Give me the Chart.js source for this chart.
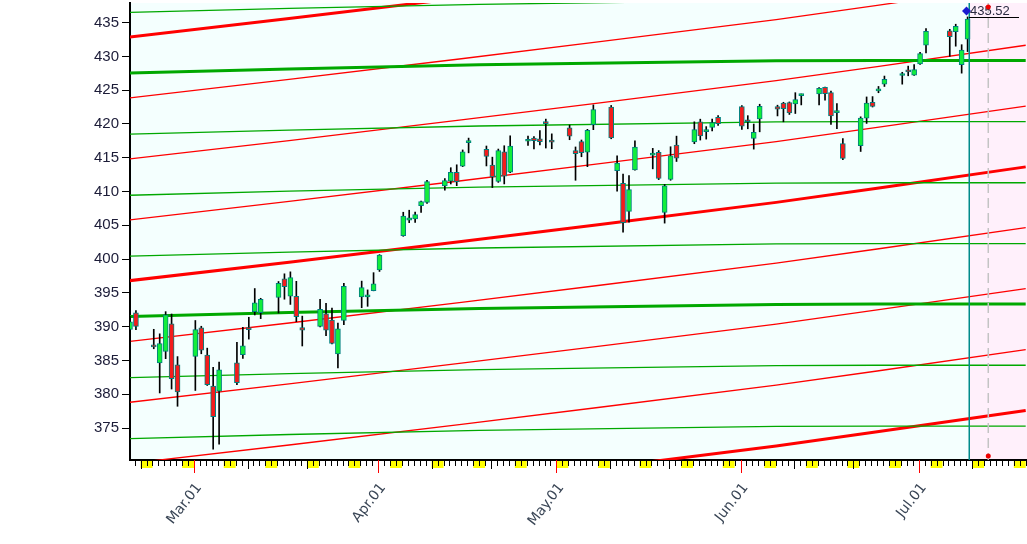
<!DOCTYPE html>
<html>
<head>
<meta charset="utf-8">
<script src="https://cdn.jsdelivr.net/npm/chart.js@4.4.1/dist/chart.umd.min.js"></script>
<style>
  html, body { margin: 0; padding: 0; background: #ffffff; }
  #wrap { width: 1027px; height: 544px; }
</style>
</head>
<body>
<div id="wrap"><canvas id="chart" width="1027" height="544"></canvas></div>
<script>
// daily candles
const dates = [
  "2021-02-18", "2021-02-19", "2021-02-22", "2021-02-23", "2021-02-24", "2021-02-25", "2021-02-26",
  "2021-03-01", "2021-03-02", "2021-03-03", "2021-03-04", "2021-03-05",
  "2021-03-08", "2021-03-09", "2021-03-10", "2021-03-11", "2021-03-12",
  "2021-03-15", "2021-03-16", "2021-03-17", "2021-03-18", "2021-03-19",
  "2021-03-22", "2021-03-23", "2021-03-24", "2021-03-25", "2021-03-26",
  "2021-03-29", "2021-03-30", "2021-03-31", "2021-04-01",
  "2021-04-05", "2021-04-06", "2021-04-07", "2021-04-08", "2021-04-09",
  "2021-04-12", "2021-04-13", "2021-04-14", "2021-04-15", "2021-04-16",
  "2021-04-19", "2021-04-20", "2021-04-21", "2021-04-22", "2021-04-23",
  "2021-04-26", "2021-04-27", "2021-04-28", "2021-04-29", "2021-04-30",
  "2021-05-03", "2021-05-04", "2021-05-05", "2021-05-06", "2021-05-07",
  "2021-05-10", "2021-05-11", "2021-05-12", "2021-05-13", "2021-05-14",
  "2021-05-17", "2021-05-18", "2021-05-19", "2021-05-20", "2021-05-21",
  "2021-05-24", "2021-05-25", "2021-05-26", "2021-05-27", "2021-05-28",
  "2021-06-01", "2021-06-02", "2021-06-03", "2021-06-04",
  "2021-06-07", "2021-06-08", "2021-06-09", "2021-06-10", "2021-06-11",
  "2021-06-14", "2021-06-15", "2021-06-16", "2021-06-17", "2021-06-18",
  "2021-06-21", "2021-06-22", "2021-06-23", "2021-06-24", "2021-06-25",
  "2021-06-28", "2021-06-29", "2021-06-30", "2021-07-01", "2021-07-02",
  "2021-07-06", "2021-07-07", "2021-07-08", "2021-07-09"
];
const open = [
  389.59, 392.07, 387.06, 384.66, 386.33, 390.41, 384.35,
  385.59, 389.82, 385.79, 381.22, 380.46,
  384.66, 385.85, 389.69, 392.23, 392.07,
  394.33, 397.07, 394.53, 394.48, 389.88,
  390.03, 391.91, 391.00, 385.98, 390.93,
  394.40, 394.42, 395.34, 398.40,
  403.46, 405.76, 405.94, 407.93, 408.39,
  410.85, 411.53, 412.83, 413.74, 417.25,
  416.26, 413.91, 411.51, 415.89, 412.87,
  417.44, 417.93, 417.81, 420.32, 417.63,
  419.43, 416.07, 417.38, 415.83, 419.89,
  422.50, 413.10, 411.23, 407.07, 413.21,
  415.39, 415.80, 406.92, 411.80, 416.87,
  417.34, 420.33, 418.87, 419.50, 420.97,
  422.57, 420.37, 417.85, 420.75,
  422.59, 423.11, 423.18, 422.96, 424.20,
  424.43, 425.42, 424.63, 421.67, 417.09,
  416.80, 420.85, 423.19, 424.89, 425.90,
  427.17, 427.88, 427.21, 428.87, 431.67,
  433.78, 433.66, 428.78, 432.53
];
const high = [
  391.52, 392.38, 389.62, 388.95, 392.23, 391.88, 385.58,
  390.92, 390.07, 386.83, 384.00, 384.76,
  387.68, 389.91, 391.40, 395.65, 394.21,
  396.69, 397.83, 398.12, 396.72, 391.57,
  394.07, 393.46, 392.75, 390.55, 396.41,
  396.75, 395.45, 398.00, 400.67,
  406.94, 407.24, 406.96, 408.58, 411.67,
  411.93, 413.53, 413.96, 416.16, 417.91,
  416.74, 415.09, 416.29, 416.78, 418.25,
  418.22, 418.14, 419.01, 420.72, 418.54,
  419.84, 416.60, 417.63, 419.21, 422.82,
  422.74, 415.27, 412.59, 412.35, 417.49,
  416.39, 416.06, 411.05, 416.63, 418.20,
  420.32, 420.71, 419.61, 420.72, 421.25,
  422.72, 421.23, 419.99, 422.92,
  422.78, 423.21, 423.26, 424.63, 424.43,
  425.37, 425.46, 424.87, 423.02, 417.83,
  421.06, 424.00, 424.05, 425.55, 427.09,
  427.65, 428.56, 428.78, 430.60, 434.10,
  434.01, 434.76, 431.73, 435.84
];
const low = [
  387.74, 389.55, 386.74, 380.20, 385.27, 380.78, 378.23,
  380.57, 386.00, 381.31, 371.88, 372.64,
  381.42, 385.31, 388.17, 391.74, 391.20,
  392.03, 394.07, 393.30, 390.75, 387.15,
  389.97, 388.66, 387.47, 383.90, 390.29,
  392.81, 393.02, 395.31, 398.18,
  403.38, 405.40, 405.45, 406.93, 408.26,
  410.20, 411.12, 410.87, 413.69, 415.73,
  413.79, 410.59, 411.36, 411.13, 412.79,
  416.81, 416.30, 416.90, 416.44, 416.34,
  417.67, 411.67, 415.15, 413.68, 419.16,
  417.81, 410.06, 404.00, 405.46, 413.18,
  413.36, 411.77, 405.33, 411.67, 414.45,
  417.08, 417.62, 417.76, 418.99, 419.79,
  419.20, 419.29, 416.28, 418.84,
  421.19, 420.32, 421.41, 421.55, 422.82,
  422.82, 423.54, 419.92, 419.32, 414.70,
  415.93, 420.08, 422.51, 424.62, 425.55,
  425.89, 427.13, 427.18, 428.80, 430.52,
  430.01, 431.51, 427.52, 430.71
];
const close = [
  390.71, 390.03, 387.03, 387.50, 391.77, 382.33, 380.36,
  389.58, 386.54, 381.42, 376.70, 383.63,
  381.72, 387.17, 389.58, 393.53, 394.06,
  396.41, 395.91, 397.26, 391.48, 389.48,
  392.59, 389.50, 387.52, 389.70, 395.98,
  395.78, 394.73, 396.33, 400.61,
  406.36, 406.12, 406.59, 408.52, 411.49,
  411.64, 412.86, 411.45, 415.87, 417.26,
  415.21, 412.17, 416.07, 412.27, 416.74,
  417.61, 417.52, 417.40, 420.06, 417.30,
  418.20, 415.62, 415.75, 419.07, 422.12,
  417.94, 414.21, 405.41, 410.28, 416.58,
  415.52, 411.94, 410.86, 415.28, 414.94,
  419.17, 418.24, 419.07, 420.20, 420.04,
  419.67, 420.33, 418.77, 422.60,
  422.19, 422.28, 421.65, 423.61, 424.31,
  425.26, 424.48, 421.20, 421.97, 414.92,
  420.86, 423.11, 422.60, 425.10, 426.61,
  427.47, 427.70, 428.06, 430.43, 433.72,
  432.93, 434.46, 430.92, 435.52
];

const yTicks = [375, 380, 385, 390, 395, 400, 405, 410, 415, 420, 425, 430, 435];
const monthStarts = ["2021-03-01", "2021-04-01", "2021-05-01", "2021-06-01", "2021-07-01"];
const monthLabels = ["Mar.01", "Apr.01", "May.01", "Jun.01", "Jul.01"];

// red channel (rising) : centre line read at a few dates, plus parallel offsets
const redKnots = ["2021-02-18", "2021-03-17", "2021-04-15", "2021-05-08", "2021-06-07", "2021-06-24", "2021-07-19"];
const redMid = [396.8, 399.55, 402.6, 405.1, 408.4, 410.5, 413.65];
const redOffsets = [36.05, 27.05, 18.0, 9.0, 0, -9.0, -18.0, -27.05, -36.05];
const redThick = [true, false, false, false, true, false, false, false, true];

// green channel (flattening)
const greenKnots = ["2021-02-18", "2021-03-17", "2021-04-18", "2021-06-07", "2021-06-24", "2021-07-19"];
const greenMid = [391.5, 392.1, 392.7, 393.3, 393.35, 393.35];
const greenOffsets = [45.0, 36.05, 27.0, 17.95, 8.95, 0, -9.05, -18.05];
const greenThick = [false, true, false, false, false, true, false, false];

const lastLabel = "435.52";
const markerDate = "2021-07-12";

// ---- helpers / styles
const DAY = 86400000;
const BASE = Date.UTC(2021, 2, 1);
function dayOf(s) {
    const [y, m, d] = s.split("-").map(Number);
    return (Date.UTC(y, m - 1, d) - BASE) / DAY;
}
const SHIFT = 0.22;
const X_MIN = dayOf(dates[0]) + SHIFT;
const X_MAX = X_MIN + 151;

const UP = "#12ee3a";
const DOWN = "#f41c1c";
const EDGE = "#00807f";

const xs = dates.map((d) => dayOf(d) + SHIFT);

function channel(knots, mid, offsets, thick, color) {
    return offsets.map((off, j) => ({
        type: "line",
        data: knots.map((d, i) => ({ x: dayOf(d), y: mid[i] + off })),
        borderColor: color,
        borderWidth: thick[j] ? 3 : 1.3,
        pointRadius: 0,
        tension: 0,
        clip: 0,
        order: 5,
    }));
}

const backgroundPlugin = {
    id: "bg",
    beforeDraw(chart) {
        const { ctx, chartArea: a, scales } = chart;
        const xEnd = Math.round(scales.x.getPixelForValue(xs[xs.length - 1]) + 1);
        ctx.save();
        ctx.fillStyle = "#f4fffe";
        ctx.fillRect(a.left, a.top, a.right - a.left, a.bottom - a.top);
        ctx.fillStyle = "#fff0fb";
        ctx.fillRect(xEnd, a.top, a.right - xEnd, a.bottom - a.top);
        ctx.restore();
    },
};

const overlayPlugin = {
    id: "overlay",
    afterDatasetsDraw(chart) {
        const { ctx, chartArea: a, scales } = chart;
        const last = xs.length - 1;
        const xEnd = Math.round(scales.x.getPixelForValue(xs[last]) + 1);
        const xm = scales.x.getPixelForValue(dayOf(markerDate) + 0.7);
        ctx.save();
        // dashed projection line
        ctx.strokeStyle = "#c4c4c4";
        ctx.lineWidth = 1.5;
        ctx.setLineDash([10, 5]);
        ctx.beginPath();
        ctx.moveTo(xm, a.top);
        ctx.lineTo(xm, a.bottom);
        ctx.stroke();
        ctx.setLineDash([]);
        // last bar line
        ctx.fillStyle = "#008b8b";
        ctx.fillRect(xEnd - 0.5, a.top, 1.5, a.bottom - a.top);
        // high line of last bar
        const yh = Math.round(scales.y.getPixelForValue(high[last])) + 0.5;
        ctx.strokeStyle = "#000";
        ctx.lineWidth = 1;
        ctx.beginPath();
        ctx.moveTo(xEnd, yh);
        ctx.lineTo(xEnd + 50, yh);
        ctx.stroke();
        // price label
        ctx.fillStyle = "#1a1ad0";
        const dy = a.top + 8;
        ctx.beginPath();
        ctx.moveTo(xEnd - 7, dy);
        ctx.lineTo(xEnd - 2.5, dy - 4.5);
        ctx.lineTo(xEnd + 2, dy);
        ctx.lineTo(xEnd - 2.5, dy + 4.5);
        ctx.closePath();
        ctx.fill();
        ctx.fillStyle = "#2a2a40";
        ctx.font = "13px 'Liberation Sans Narrow', 'Liberation Sans', sans-serif";
        ctx.textBaseline = "middle";
        ctx.textAlign = "left";
        ctx.fillText(lastLabel, xEnd + 1, dy);
        // marker dots
        ctx.fillStyle = "#ee0000";
        [a.top + 4, a.bottom - 4].forEach((y) => {
            ctx.beginPath();
            ctx.arc(xm, y, 2.5, 0, Math.PI * 2);
            ctx.fill();
        });
        ctx.restore();
    },
    afterDraw(chart) {
        const { ctx, chartArea: a, scales } = chart;
        const sx = scales.x;
        ctx.save();
        for (let d = Math.ceil(sx.min); d <= Math.floor(sx.max); d++) {
            const dt = new Date(BASE + d * DAY);
            if (dt.getUTCDay() === 6) {
                const x0 = sx.getPixelForValue(d);
                const x1 = Math.min(sx.getPixelForValue(d + 2), a.right);
                ctx.fillStyle = "#ffff00";
                ctx.fillRect(x0, a.bottom + 1, x1 - x0, 7);
            }
        }
        for (let d = Math.ceil(sx.min); d <= Math.floor(sx.max); d++) {
            const dt = new Date(BASE + d * DAY);
            const dom = dt.getUTCDate();
            const len = dom === 1 ? 13 : (dom === 10 || dom === 20) ? 9 : 6;
            const x = Math.round(sx.getPixelForValue(d)) + 0.5;
            ctx.strokeStyle = dom === 1 ? "#ff0000" : "#000000";
            ctx.lineWidth = 1;
            ctx.beginPath();
            ctx.moveTo(x, a.bottom);
            ctx.lineTo(x, a.bottom + len);
            ctx.stroke();
        }
        ctx.restore();
    },
};

const datasets = [
    ...channel(greenKnots, greenMid, greenOffsets, greenThick, "#00a800"),
    ...channel(redKnots, redMid, redOffsets, redThick, "#ff0000"),
    {
        type: "bar",
        data: xs.map((x, i) => ({ x, y: [low[i], high[i]] })),
        backgroundColor: "#000000",
        borderWidth: 0,
        barThickness: 1,
        grouped: false,
        clip: 0,
        order: 2,
    },
    {
        type: "bar",
        data: xs.map((x, i) => ({ x, y: [open[i], close[i]] })),
        backgroundColor: open.map((o, i) => (close[i] >= o ? UP : DOWN)),
        borderColor: EDGE,
        borderWidth: 1,
        borderSkipped: false,
        barThickness: 5,
        minBarLength: 2,
        grouped: false,
        clip: 0,
        order: 1,
    },
];

new Chart(document.getElementById("chart"), {
    type: "bar",
    data: { datasets },
    options: {
        responsive: false,
        animation: false,
        events: [],
        layout: { padding: { top: 3, left: 0, right: 0, bottom: 0 } },
        plugins: { legend: { display: false }, tooltip: { enabled: false } },
        scales: {
            x: {
                type: "linear",
                min: X_MIN,
                max: X_MAX,
                offset: false,
                afterBuildTicks: (s) => { s.ticks = monthStarts.map((m) => ({ value: dayOf(m) })); },
                afterFit: (s) => { s.height = 84; s.paddingLeft = 0; s.paddingRight = 0; },
                ticks: {
                    autoSkip: false,
                    minRotation: 52,
                    maxRotation: 52,
                    padding: 7,
                    labelOffset: 5,
                    color: "#3a4656",
                    font: { family: "'DejaVu Sans', sans-serif", size: 14 },
                    callback: (v, i) => monthLabels[i],
                },
                grid: { offset: false, drawOnChartArea: false, tickLength: 13, tickColor: "rgba(0,0,0,0)" },
                border: { color: "#000000", width: 2 },
            },
            y: {
                min: 370.28,
                max: 437.9,
                afterBuildTicks: (s) => { s.ticks = yTicks.map((v) => ({ value: v })); },
                afterFit: (s) => { s.width = 130; s.paddingTop = 0; s.paddingBottom = 0; },
                ticks: {
                    padding: 3,
                    color: "#1c1c38",
                    font: { family: "'Liberation Sans Narrow', 'Liberation Sans', sans-serif", size: 15 },
                },
                grid: { drawOnChartArea: false, tickLength: 8, tickColor: "#000000" },
                border: { color: "#000000", width: 2 },
            },
        },
    },
    plugins: [backgroundPlugin, overlayPlugin],
});
</script>
</body>
</html>
